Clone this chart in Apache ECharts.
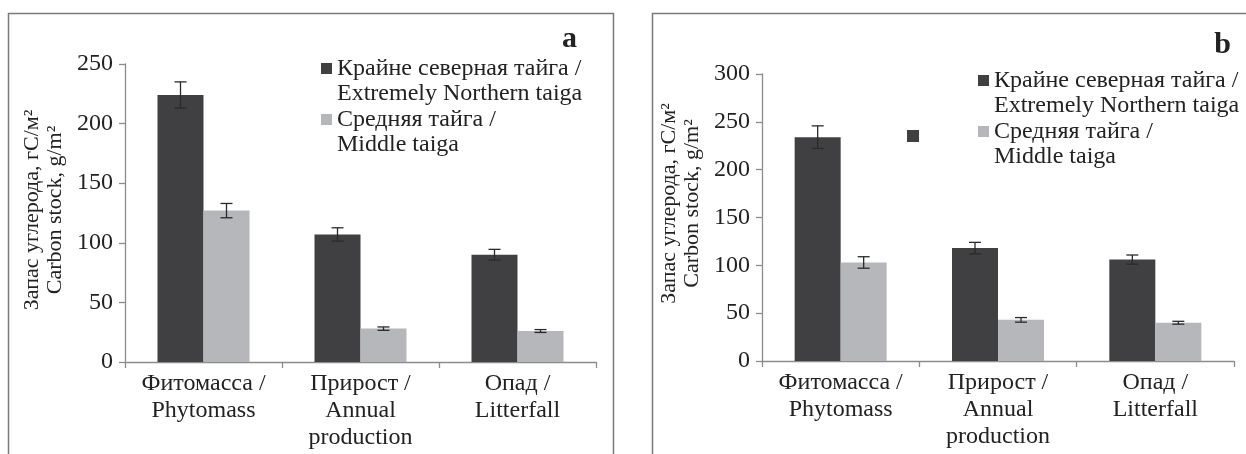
<!DOCTYPE html>
<html>
<head>
<meta charset="utf-8">
<script src="https://cdn.jsdelivr.net/npm/echarts@6/dist/echarts.min.js"></script>
<style>
	html, body { margin: 0; padding: 0; background: #fff; }
	#main { width: 1246px; height: 454px; }
</style>
</head>
<body>
<div id="main"></div>
<script>
/* 数据 */
var categories = ['Фитомасса /\nPhytomass', 'Прирост /\nAnnual\nproduction', 'Опад /\nLitterfall'];
var seriesNames = ['Крайне северная тайга /\nExtremely Northern taiga', 'Средняя тайга /\nMiddle taiga'];
var yTicksA = [0, 50, 100, 150, 200, 250];
var yTicksB = [0, 50, 100, 150, 200, 250, 300];

var northA = [224, 107, 90];
var northErrA = [11, 5.6, 4.5];
var middleA = [127, 28, 26];
var middleErrA = [6, 1.4, 1.2];

var northB = [234, 118, 106];
var northErrB = [11.8, 6, 4.8];
var middleB = [103, 43, 40];
var middleErrB = [6, 2.4, 1.5];

var fontName = '"Liberation Serif", "Times New Roman", serif';
var darkColor = '#404043';
var lightColor = '#b6b7ba';
var axisColor = '#8c8c8c';
var barW = 46;
// квадрат маркера в верхней строке двухстрочной подписи
var legendIcon = 'path://M0,7H11V18H0Z M0,0L0,0 M0,50L0,50';

var myChart = echarts.init(document.getElementById('main'));

function errData(vals, errs) {
	var out = [];
	for (var i = 0; i < vals.length; i++) {
		out.push([i, vals[i] - errs[i], vals[i] + errs[i]]);
	}
	return out;
}

function errSeries(idx, vals, errs, shift) {
	return {
		type: 'custom',
		xAxisIndex: idx,
		yAxisIndex: idx,
		silent: true,
		z: 5,
		data: errData(vals, errs),
		renderItem: function (params, api) {
			var lo = api.coord([api.value(0), api.value(1)]);
			var hi = api.coord([api.value(0), api.value(2)]);
			var x = lo[0] + shift;
			var cap = 6;
			var st = { stroke: '#2a2a2a', lineWidth: 1.3 };
			return {
				type: 'group',
				children: [
					{ type: 'line', shape: { x1: x, y1: lo[1], x2: x, y2: hi[1] }, style: st },
					{ type: 'line', shape: { x1: x - cap, y1: lo[1], x2: x + cap, y2: lo[1] }, style: st },
					{ type: 'line', shape: { x1: x - cap, y1: hi[1], x2: x + cap, y2: hi[1] }, style: st }
				]
			};
		}
	};
}

function xAxisCfg(idx) {
	return {
		type: 'category',
		gridIndex: idx,
		data: categories,
		axisLine: { lineStyle: { color: axisColor, width: 1.3 } },
		axisTick: { show: true, length: 6, lineStyle: { color: axisColor, width: 1.3 } },
		axisLabel: {
			interval: 0,
			margin: 8,
			color: '#222',
			fontFamily: fontName,
			fontSize: 24,
			lineHeight: 27
		}
	};
}

function yAxisCfg(idx, ticks, namePad) {
	return {
		type: 'value',
		gridIndex: idx,
		min: ticks[0],
		max: ticks[ticks.length - 1],
		interval: ticks[1] - ticks[0],
		name: 'Запас углерода, гС/м²\nCarbon stock, g/m²',
		nameLocation: 'middle',
		nameRotate: 90,
		nameGap: 58,
		nameTextStyle: {
			color: '#222',
			fontFamily: fontName,
			fontSize: 22,
			lineHeight: 23,
			padding: namePad
		},
		axisLine: { show: true, lineStyle: { color: axisColor, width: 1.3 } },
		axisTick: { show: true, length: 6, lineStyle: { color: axisColor, width: 1.3 } },
		axisLabel: {
			margin: 12,
			color: '#222',
			fontFamily: fontName,
			fontSize: 24
		},
		splitLine: { show: false }
	};
}

function legendCfg(left, top) {
	return {
		left: left,
		top: top,
		orient: 'vertical',
		icon: legendIcon,
		itemWidth: 11,
		itemHeight: 50,
		itemGap: 1,
		selectedMode: false,
		data: [
			{ name: seriesNames[0], itemStyle: { color: darkColor } },
			{ name: seriesNames[1], itemStyle: { color: lightColor } }
		],
		textStyle: {
			color: '#222',
			fontFamily: fontName,
			fontSize: 24,
			lineHeight: 25
		}
	};
}

var option = {
	animation: false,
	title: [
		{ text: 'a', right: 664, top: 19, textStyle: { fontFamily: fontName, fontSize: 30, fontWeight: 'bold', color: '#222' } },
		{ text: 'b', right: 10, top: 25, textStyle: { fontFamily: fontName, fontSize: 30, fontWeight: 'bold', color: '#222' } }
	],
	grid: [
		{ left: 125, top: 64, width: 471, height: 298 },
		{ left: 762, top: 74, width: 472, height: 287 }
	],
	legend: [
		legendCfg(316, 51),
		legendCfg(973, 63)
	],
	xAxis: [xAxisCfg(0), xAxisCfg(1)],
	yAxis: [yAxisCfg(0, yTicksA, [0, 0, 0, 6]), yAxisCfg(1, yTicksB, [0, 0, 0, 28])],
	graphic: [
		{ type: 'rect', shape: { x: 8.5, y: 13.5, width: 605, height: 480 }, style: { fill: 'none', stroke: '#7a7a7a', lineWidth: 1.5 } },
		{ type: 'rect', shape: { x: 652.5, y: 13.5, width: 640, height: 480 }, style: { fill: 'none', stroke: '#7a7a7a', lineWidth: 1.5 } },
		// лишний маркер на панели b
		{ type: 'rect', shape: { x: 907, y: 130, width: 12, height: 12 }, style: { fill: darkColor } }
	],
	series: [
		{ name: seriesNames[0], type: 'bar', xAxisIndex: 0, yAxisIndex: 0, data: northA, barWidth: barW, barGap: '0%', itemStyle: { color: darkColor } },
		{ name: seriesNames[1], type: 'bar', xAxisIndex: 0, yAxisIndex: 0, data: middleA, barWidth: barW, barGap: '0%', itemStyle: { color: lightColor } },
		errSeries(0, northA, northErrA, -barW / 2),
		errSeries(0, middleA, middleErrA, barW / 2),
		{ name: seriesNames[0], type: 'bar', xAxisIndex: 1, yAxisIndex: 1, data: northB, barWidth: barW, barGap: '0%', itemStyle: { color: darkColor } },
		{ name: seriesNames[1], type: 'bar', xAxisIndex: 1, yAxisIndex: 1, data: middleB, barWidth: barW, barGap: '0%', itemStyle: { color: lightColor } },
		errSeries(1, northB, northErrB, -barW / 2),
		errSeries(1, middleB, middleErrB, barW / 2)
	]
};
myChart.setOption(option);
</script>
</body>
</html>
